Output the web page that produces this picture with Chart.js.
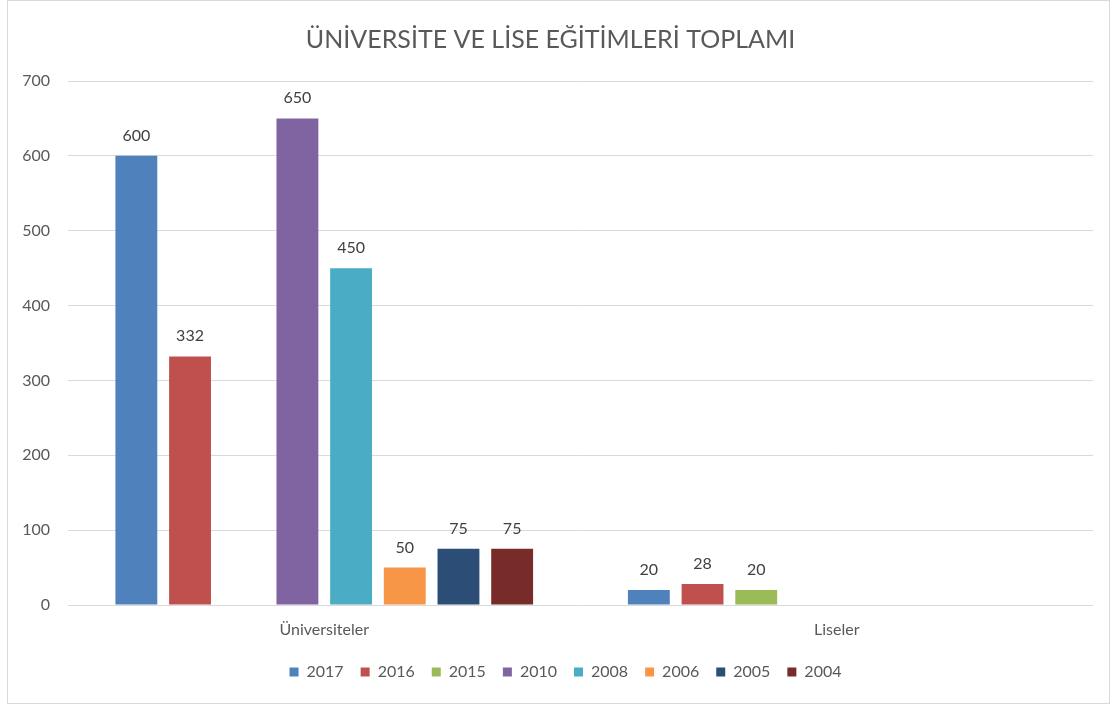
<!DOCTYPE html>
<html>
<head>
<meta charset="utf-8">
<script src="https://cdn.jsdelivr.net/npm/chart.js@4"></script>
<style>
  body { margin: 0; background: #fff; }
  #kutu { position: absolute; left: 7px; top: 0px; width: 1101px; height: 702px; border: 1px solid #d9d9d9; background: #fff; }
</style>
</head>
<body>
<div id="kutu"><canvas id="grafik" width="1101" height="702"></canvas></div>
<script>
const kategoriler = ['Üniversiteler', 'Liseler'];
const yillar = ['2017', '2016', '2015', '2010', '2008', '2006', '2005', '2004'];
const renkler = ['#4F81BD', '#C0504D', '#9BBB59', '#8064A2', '#4BACC6', '#F79646', '#2C4D75', '#772C2A'];
const universiteler = [600, 332, null, 650, 450, 50, 75, 75];
const liseler = [20, 28, 20, null, null, null, null, null];

// her yıl için ayrı seri
const seriler = yillar.map((yil, i) => ({
    label: yil,
    data: [universiteler[i], liseler[i]],
    backgroundColor: renkler[i],
    categoryPercentage: 0.838,
    barPercentage: 0.78
}));

// çubukların üstüne değer yaz
const degerYaz = {
    id: 'degerYaz',
    afterDatasetsDraw(chart) {
        const c = chart.ctx;
        c.save();
        c.font = '16px Lato';
        c.fillStyle = '#404040';
        c.textAlign = 'center';
        c.textBaseline = 'alphabetic';
        chart.data.datasets.forEach((ds, i) => {
            chart.getDatasetMeta(i).data.forEach((bar, j) => {
                if (ds.data[j] == null) return;
                c.fillText(ds.data[j], bar.x, bar.y - 15);
            });
        });
        c.restore();
    }
};

// lejant biraz sağa kaysın (grafik alanına göre ortalı)
const lejantKaydir = {
    id: 'lejantKaydir',
    afterLayout(chart) {
        chart.legend.left += 15;
        chart.legend.right += 15;
    }
};

Chart.defaults.font.family = 'Lato';
Chart.defaults.color = '#595959';

new Chart(document.getElementById('grafik').getContext('2d'), {
    type: 'bar',
    data: { labels: kategoriler, datasets: seriler },
    plugins: [degerYaz, lejantKaydir],
    options: {
        responsive: false,
        animation: false,
        layout: { padding: { left: 0, right: 16, top: 0, bottom: 13 } },
        plugins: {
            title: {
                display: true,
                text: 'ÜNİVERSİTE VE LİSE EĞİTİMLERİ TOPLAMI',
                color: '#595959',
                font: { size: 25, weight: 'normal' },
                padding: { top: 24, bottom: 26 }
            },
            legend: {
                position: 'bottom',
                labels: { boxWidth: 9, boxHeight: 9, font: { size: 16 }, padding: 17 }
            },
            tooltip: { enabled: false }
        },
        scales: {
            x: {
                grid: { display: false },
                border: { display: false },
                ticks: { font: { size: 16 }, padding: 7 },
                afterFit(s) { s.height = 42; }
            },
            y: {
                min: 0,
                max: 700,
                ticks: { stepSize: 100, font: { size: 16 }, padding: 18 },
                grid: { color: '#d9d9d9', drawTicks: false },
                border: { display: false },
                afterFit(s) { s.width = 60; }
            }
        }
    }
});
</script>
</body>
</html>
